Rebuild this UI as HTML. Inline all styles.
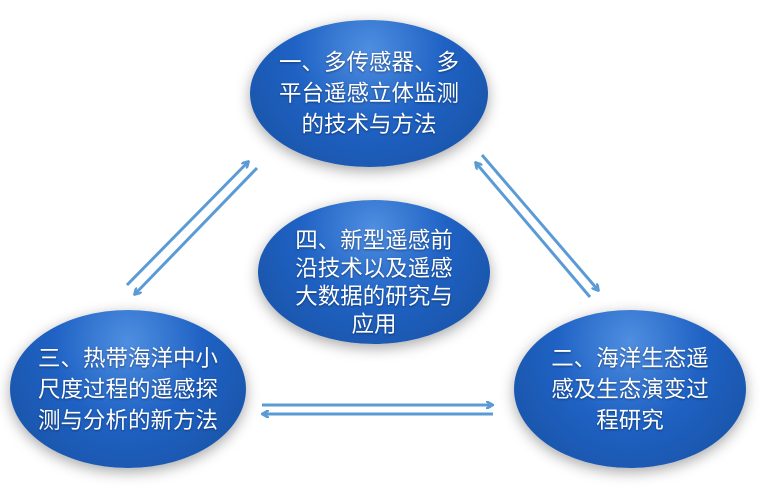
<!DOCTYPE html>
<html><head><meta charset="utf-8"><style>
body{margin:0;width:765px;height:491px;background:#fff;overflow:hidden;position:relative;font-family:"Liberation Sans","Noto Sans CJK SC",sans-serif}
.e{position:absolute;border-radius:50%;background:radial-gradient(ellipse at 50% 20%,#4f8ee0 0%,#1f62c4 45%,#174f9f 100%);box-shadow:0 4px 14px rgba(0,0,0,.35);color:#fff;display:flex;align-items:center;justify-content:center;text-align:center;font-size:22.5px;line-height:31px;text-shadow:0 1px 2px rgba(0,0,0,.4);box-sizing:border-box}
svg{position:absolute;left:0;top:0}
</style></head><body>
<div class="e" style="left:250px;top:20px;width:238px;height:147px">一、多传感器、多<br>平台遥感立体监测<br>的技术与方法</div>
<div class="e" style="left:258px;top:200px;width:232px;height:144px;padding-top:22px;line-height:28px">四、新型遥感前<br>沿技术以及遥感<br>大数据的研究与<br>应用</div>
<div class="e" style="left:10px;top:310px;width:236px;height:158px">三、热带海洋中小<br>尺度过程的遥感探<br>测与分析的新方法</div>
<div class="e" style="left:514px;top:310px;width:232px;height:158px">二、海洋生态遥<br>感及生态演变过<br>程研究</div>
<svg width="765" height="491"><defs><marker id="a" markerWidth="8" markerHeight="8" refX="6" refY="4" orient="auto" markerUnits="userSpaceOnUse"><path d="M0,0 L7,4 L0,8" fill="none" stroke="#5b9bd5" stroke-width="2.5"/></marker></defs>
<g stroke="#5b9bd5" stroke-width="3" fill="none" marker-end="url(#a)">
<line x1="127" y1="285" x2="248" y2="162"/>
<line x1="257" y1="168" x2="135" y2="294"/>
<line x1="482" y1="155" x2="598" y2="290"/>
<line x1="590" y1="297" x2="476" y2="163"/>
<line x1="262" y1="405" x2="492" y2="405"/>
<line x1="493" y1="414" x2="263" y2="414"/>
</g></svg>
</body></html>
